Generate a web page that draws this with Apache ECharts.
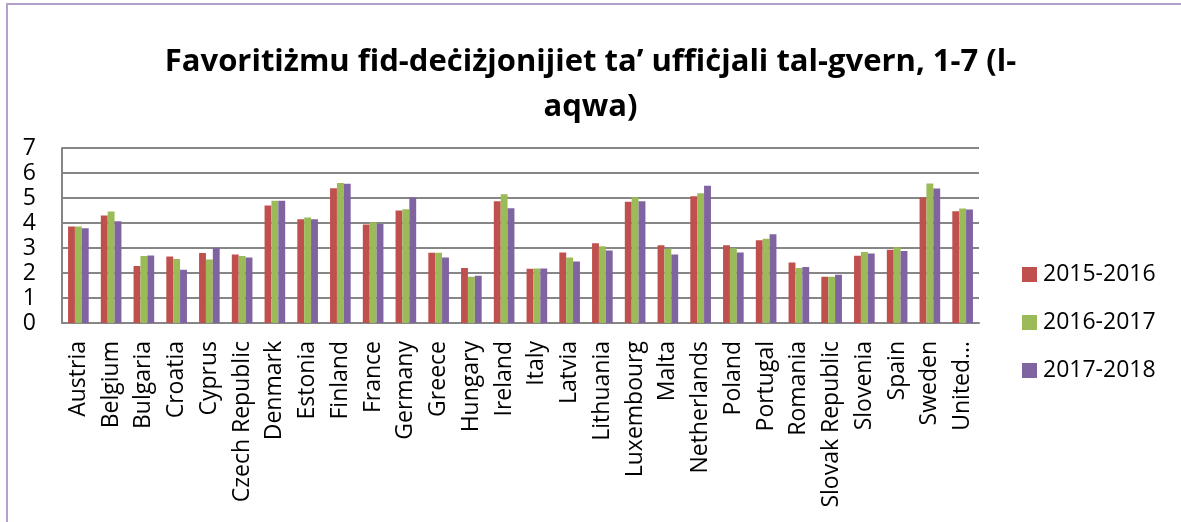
<!DOCTYPE html>
<html>
<head>
<meta charset="utf-8">
<script src="https://cdn.jsdelivr.net/npm/echarts@6/dist/echarts.min.js"></script>
<style>
    html, body { margin: 0; padding: 0; background: #fff; }
    #chart { width: 1181px; height: 522px; }
</style>
</head>
<body>
<div id="chart"></div>
<script>
// pajjiżi (kategoriji)
var countries = ['Austria', 'Belgium', 'Bulgaria', 'Croatia', 'Cyprus', 'Czech Republic', 'Denmark',
    'Estonia', 'Finland', 'France', 'Germany', 'Greece', 'Hungary', 'Ireland', 'Italy', 'Latvia',
    'Lithuania', 'Luxembourg', 'Malta', 'Netherlands', 'Poland', 'Portugal', 'Romania',
    'Slovak Republic', 'Slovenia', 'Spain', 'Sweden', 'United…'];
var seriesNames = ['2015-2016', '2016-2017', '2017-2018'];
var v2015 = [3.86, 4.30, 2.28, 2.66, 2.80, 2.74, 4.70, 4.15, 5.39, 3.94, 4.50, 2.81, 2.20, 4.87,
    2.17, 2.82, 3.19, 4.85, 3.11, 5.07, 3.11, 3.31, 2.42, 1.85, 2.69, 2.93, 5.02, 4.47];
var v2016 = [3.86, 4.46, 2.68, 2.56, 2.54, 2.68, 4.89, 4.22, 5.60, 4.03, 4.55, 2.81, 1.85, 5.15,
    2.18, 2.62, 3.07, 5.03, 2.97, 5.19, 2.99, 3.37, 2.20, 1.85, 2.84, 3.03, 5.58, 4.58];
var v2017 = [3.79, 4.07, 2.70, 2.13, 3.00, 2.62, 4.89, 4.15, 5.57, 3.96, 5.02, 2.62, 1.89, 4.59,
    2.18, 2.46, 2.90, 4.87, 2.74, 5.49, 2.82, 3.55, 2.24, 1.93, 2.78, 2.88, 5.38, 4.54];
var yTicks = [0, 1, 2, 3, 4, 5, 6, 7];

var colors = ['#C0504D', '#9BBB59', '#8064A2'];
var font = '"Open Sans", "Noto Sans", sans-serif';

var myChart = echarts.init(document.getElementById('chart'));

function bar(i, data) {
    return {
        name: seriesNames[i],
        type: 'bar',
        data: data,
        barGap: '0%',
        barCategoryGap: '37%',
        itemStyle: { color: colors[i] }
    };
}

var option = {
    backgroundColor: '#fff',
    animation: false,
    color: colors,
    title: {
        text: 'Favoritiżmu fid-deċiżjonijiet ta’ uffiċjali tal-gvern, 1-7 (l-\naqwa)',
        left: 'center',
        top: 35,
        textStyle: {
            fontFamily: font,
            fontSize: 31,
            fontWeight: 'bold',
            color: '#000',
            lineHeight: 45
        }
    },
    legend: {
        orient: 'vertical',
        left: 1022,
        top: 263,
        padding: 0,
        itemWidth: 15,
        itemHeight: 15,
        itemGap: 25,
        icon: 'rect',
        textStyle: { fontFamily: font, fontSize: 23, color: '#000', padding: [0, 0, 0, 1] },
        data: seriesNames
    },
    grid: {
        left: 62,
        top: 148,
        width: 917,
        height: 175,
        containLabel: false
    },
    xAxis: {
        type: 'category',
        data: countries,
        axisLine: { show: true, lineStyle: { color: '#868686', width: 2 } },
        axisTick: { show: false },
        axisLabel: {
            rotate: 90,
            interval: 0,
            margin: 18,
            fontFamily: font,
            fontSize: 23,
            color: '#000'
        }
    },
    yAxis: {
        type: 'value',
        min: yTicks[0],
        max: yTicks[yTicks.length - 1],
        interval: 1,
        axisLine: { show: true, lineStyle: { color: '#868686', width: 2 } },
        axisTick: { show: false },
        axisLabel: {
            margin: 26,
            fontFamily: font,
            fontSize: 23,
            color: '#000'
        },
        splitLine: { lineStyle: { color: '#868686', width: 2 } }
    },
    graphic: [{
        // ramm vjola tal-paġna
        type: 'polyline',
        shape: { points: [[7, 522], [7, 4], [1181, 4]] },
        style: { stroke: '#B4A0CC', lineWidth: 2, fill: null }
    }],
    series: [bar(0, v2015), bar(1, v2016), bar(2, v2017)]
};

myChart.setOption(option);
</script>
</body>
</html>
